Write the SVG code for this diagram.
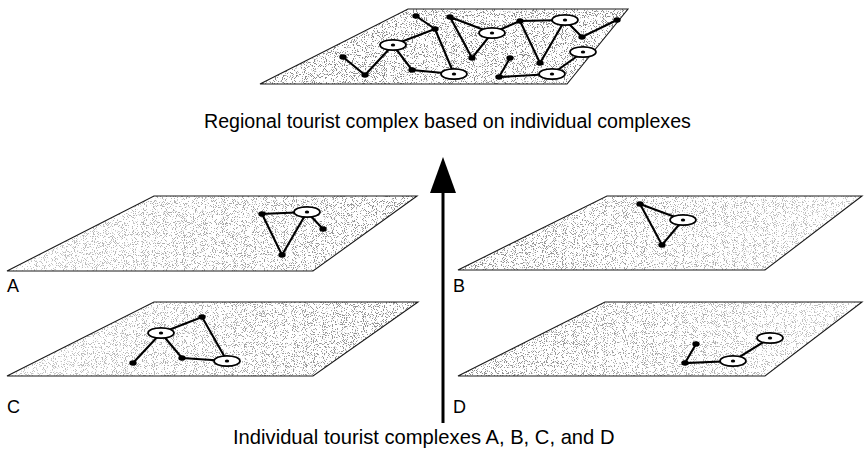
<svg xmlns="http://www.w3.org/2000/svg" xmlns:xlink="http://www.w3.org/1999/xlink" width="866" height="457" viewBox="0 0 866 457">
<style>
.base{fill:#ffffff;stroke:none}
.stip{fill:#000;stroke:none;filter:url(#stipple)}
.edge{fill:none;stroke:#1a1a1a;stroke-width:1.1}
.link{stroke:#000;stroke-width:2.1;fill:none;stroke-linecap:round}
.lbl{font-family:"Liberation Sans",Arial,sans-serif;font-size:18px;fill:#000}
.cap{font-family:"Liberation Sans",Arial,sans-serif;fill:#000}
</style>
<defs>
<filter id="stipple" x="0" y="0" width="1" height="1">
<feTurbulence type="fractalNoise" baseFrequency="1.1" numOctaves="1" seed="4" result="n"/>
<feColorMatrix in="n" type="matrix" values="0 0 0 0 0.25  0 0 0 0 0.25  0 0 0 0 0.25  -14 0 0 0 6.2" result="d"/>
<feComposite in="d" in2="SourceGraphic" operator="in"/>
</filter>
<linearGradient id="gR"><stop offset="0" stop-color="#777"/><stop offset="1" stop-color="#fff"/></linearGradient>
<linearGradient id="gL"><stop offset="0" stop-color="#fff"/><stop offset="1" stop-color="#777"/></linearGradient>
<mask id="mR" maskContentUnits="objectBoundingBox"><rect width="1" height="1" fill="url(#gR)"/></mask>
<mask id="mL" maskContentUnits="objectBoundingBox"><rect width="1" height="1" fill="url(#gL)"/></mask>
<g id="dot"><ellipse cx="0" cy="0" rx="3.7" ry="2.7" fill="#000"/></g>
<g id="ring"><ellipse cx="0" cy="0" rx="13" ry="5.2" fill="#fff" stroke="#000" stroke-width="1.7"/><ellipse cx="0" cy="0" rx="2.2" ry="1.5" fill="#000"/></g>
</defs>
<rect width="866" height="457" fill="#fff"/>

<g id="plane-regional">
<polygon class="base" points="260,84 408,9 628,9 567,84"/>
<polygon class="stip" points="260,84 408,9 628,9 567,84"/>
<polygon class="edge" points="260,84 408,9 628,9 567,84"/>
<g id="regional-links">
<path class="link" d="M416,16L435,29L393,45M435,29L454,74M450,17L472,58M450,17L492,33L472,58M492,33L520,21L565,20M520,21L540,63L565,20L582,37L617,20M583,52L552,74L499,77L510,58M393,45L412,70L454,74M343,57L365,75L393,45"/>
</g>
<use href="#dot" x="416" y="16"/><use href="#dot" x="435" y="29"/><use href="#dot" x="450" y="17"/>
<use href="#dot" x="472" y="58"/><use href="#dot" x="520" y="21"/><use href="#dot" x="617" y="20"/>
<use href="#dot" x="582" y="37"/><use href="#dot" x="540" y="63"/><use href="#dot" x="510" y="58"/>
<use href="#dot" x="499" y="77"/><use href="#dot" x="412" y="70"/><use href="#dot" x="343" y="57"/>
<use href="#dot" x="365" y="75"/>
<use href="#ring" x="393" y="45"/><use href="#ring" x="492" y="33"/><use href="#ring" x="565" y="20"/>
<use href="#ring" x="583" y="52"/><use href="#ring" x="552" y="74"/><use href="#ring" x="454" y="74"/>
</g>

<g id="plane-A">
<polygon class="base" points="7,271 154,196 417,196 313,271"/>
<g mask="url(#mR)"><polygon class="stip" points="7,271 154,196 417,196 313,271"/></g>
<polygon class="edge" points="7,271 154,196 417,196 313,271"/>
<g id="A-links"><path class="link" d="M307,212L262,214L282,255L307,212L323,229"/></g>
<use href="#dot" x="262" y="214"/><use href="#dot" x="323" y="229"/><use href="#dot" x="282" y="255"/>
<use href="#ring" x="307" y="212"/>
<text class="lbl" x="7" y="292">A</text>
</g>

<g id="plane-B">
<polygon class="base" points="458,270 607,196 862,196 765,270"/>
<g mask="url(#mL)"><polygon class="stip" points="458,270 607,196 862,196 765,270"/></g>
<polygon class="edge" points="458,270 607,196 862,196 765,270"/>
<g id="B-links"><path class="link" d="M683,220L640,204L662,245L683,220"/></g>
<use href="#dot" x="640" y="204"/><use href="#dot" x="662" y="245"/>
<use href="#ring" x="683" y="220"/>
<text class="lbl" x="453" y="292">B</text>
</g>

<g id="plane-C">
<polygon class="base" points="7,376 154,302 418,302 313,376"/>
<g mask="url(#mR)"><polygon class="stip" points="7,376 154,302 418,302 313,376"/></g>
<polygon class="edge" points="7,376 154,302 418,302 313,376"/>
<g id="C-links"><path class="link" d="M161,333L202,317L227,361M161,333L133,363M161,333L182,358L227,361"/></g>
<use href="#dot" x="202" y="317"/><use href="#dot" x="133" y="363"/><use href="#dot" x="182" y="358"/>
<use href="#ring" x="161" y="333"/><use href="#ring" x="227" y="361"/>
<text class="lbl" x="7" y="413">C</text>
</g>

<g id="plane-D">
<polygon class="base" points="458,376 605,302 862,302 765,376"/>
<g mask="url(#mL)"><polygon class="stip" points="458,376 605,302 862,302 765,376"/></g>
<polygon class="edge" points="458,376 605,302 862,302 765,376"/>
<g id="D-links"><path class="link" d="M696,344L685,363L733,361L770,338"/></g>
<use href="#dot" x="696" y="344"/><use href="#dot" x="685" y="363"/>
<use href="#ring" x="733" y="361"/><use href="#ring" x="770" y="338"/>
<text class="lbl" x="453" y="413">D</text>
</g>

<g id="connectors">
<line x1="443" y1="190" x2="443" y2="423" stroke="#000" stroke-width="3"/>
<polygon points="443,157 430,193 456,193" fill="#000"/>
</g>

<text class="cap" x="204" y="128" font-size="19.6">Regional tourist complex based on individual complexes</text>
<text class="cap" x="233" y="444" font-size="20.2">Individual tourist complexes A, B, C, and D</text>
</svg>
